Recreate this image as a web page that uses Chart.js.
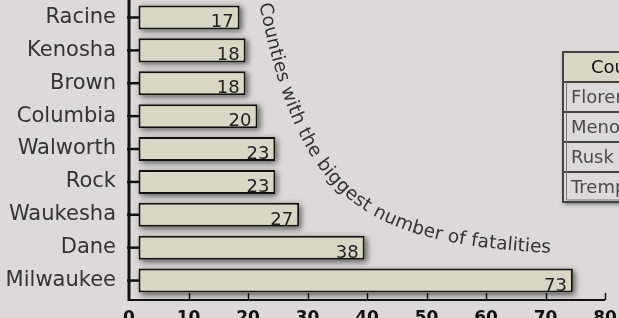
<!DOCTYPE html>
<html>
<head>
<meta charset="utf-8">
<script src="https://cdn.jsdelivr.net/npm/chart.js@4.4.1/dist/chart.umd.min.js"></script>
<style>
  html, body { margin: 0; padding: 0; background: #dcd9d8; overflow: hidden; }
  #wrap { width: 619px; height: 318px; overflow: hidden; }
</style>
</head>
<body>
<div id="wrap"><canvas id="myChart" width="619" height="330" style="width:619px;height:330px"></canvas></div>
<script>
const counties = ['Racine', 'Kenosha', 'Brown', 'Columbia', 'Walworth', 'Rock', 'Waukesha', 'Dane', 'Milwaukee'];
const fatalities = [17, 18, 18, 20, 23, 23, 27, 38, 73];
const xTicks = [0, 10, 20, 30, 40, 50, 60, 70, 80];
const titleText = 'Counties with the biggest number of fatalities';
const tableHeader = 'County';
const zeroCounties = ['Florence', 'Menominee', 'Rusk', 'Trempealeau'];

const BAR_START = 1.6; // bars sit a little off the axis line
const barFill = '#d9d6c5';
const bg = '#dcd9d8';

// soft shadow under each bar
const barShadow = {
    id: 'barShadow',
    beforeDatasetsDraw(chart) {
        const ctx = chart.ctx;
        ctx.save();
        ctx.shadowColor = 'rgba(0,0,0,0.6)';
        ctx.shadowBlur = 6;
        ctx.shadowOffsetX = 2;
        ctx.shadowOffsetY = 2;
        ctx.fillStyle = barFill;
        chart.getDatasetMeta(0).data.forEach(bar => {
            const p = bar.getProps(['x', 'y', 'base', 'height'], true);
            ctx.fillRect(p.base, p.y - p.height / 2, p.x - p.base, p.height);
        });
        ctx.restore();
    }
};

// axis lines, tick marks and value labels
const axesAndLabels = {
    id: 'axesAndLabels',
    afterDatasetsDraw(chart) {
        const ctx = chart.ctx;
        const xs = chart.scales.x, ys = chart.scales.y;
        const area = chart.chartArea;
        const axisY = area.bottom + 3;
        const x0 = xs.getPixelForValue(0);
        ctx.save();
        ctx.strokeStyle = '#111';
        // x axis
        ctx.lineWidth = 2;
        ctx.beginPath();
        ctx.moveTo(x0, axisY);
        ctx.lineTo(xs.getPixelForValue(80), axisY);
        ctx.stroke();
        ctx.lineWidth = 1.5;
        xTicks.slice(1).forEach(t => {
            const px = Math.round(xs.getPixelForValue(t)) + 0.5;
            ctx.beginPath();
            ctx.moveTo(px, axisY);
            ctx.lineTo(px, axisY - 7);
            ctx.stroke();
        });
        // y axis
        ctx.lineWidth = 3;
        ctx.beginPath();
        ctx.moveTo(x0, 0);
        ctx.lineTo(x0, axisY + 1);
        ctx.stroke();
        ctx.lineWidth = 2.5;
        counties.forEach((c, i) => {
            const py = ys.getPixelForValue(i);
            ctx.beginPath();
            ctx.moveTo(x0 - 2, py);
            ctx.lineTo(x0 + 11, py);
            ctx.stroke();
        });
        // value labels
        ctx.font = '18px "DejaVu Sans"';
        ctx.fillStyle = '#222';
        ctx.textAlign = 'right';
        ctx.textBaseline = 'alphabetic';
        chart.getDatasetMeta(0).data.forEach((bar, i) => {
            ctx.fillText(String(fatalities[i]), bar.x - 6, bar.y + 10);
        });
        ctx.restore();
    }
};

// title written along a curve (cubic bezier)
const curveTitle = {
    id: 'curveTitle',
    afterDraw(chart) {
        const ctx = chart.ctx;
        const p0 = [264, 3], p3 = [550, 248];
        const d0 = [0.2, 0.98], d3 = [0.998, 0.05], L = 193;
        const p1 = [p0[0] + d0[0] * L, p0[1] + d0[1] * L];
        const p2 = [p3[0] - d3[0] * L, p3[1] - d3[1] * L];
        const pt = t => {
            const u = 1 - t;
            return [
                u * u * u * p0[0] + 3 * u * u * t * p1[0] + 3 * u * t * t * p2[0] + t * t * t * p3[0],
                u * u * u * p0[1] + 3 * u * u * t * p1[1] + 3 * u * t * t * p2[1] + t * t * t * p3[1]
            ];
        };
        const N = 600;
        const pts = [], len = [0];
        for (let i = 0; i <= N; i++) pts.push(pt(i / N));
        for (let i = 1; i <= N; i++) {
            len.push(len[i - 1] + Math.hypot(pts[i][0] - pts[i - 1][0], pts[i][1] - pts[i - 1][1]));
        }
        const at = s => {
            let i = 1;
            while (i < N && len[i] < s) i++;
            const f = (s - len[i - 1]) / (len[i] - len[i - 1] || 1);
            const a = pts[i - 1], b = pts[i];
            return { x: a[0] + (b[0] - a[0]) * f, y: a[1] + (b[1] - a[1]) * f, ang: Math.atan2(b[1] - a[1], b[0] - a[0]) };
        };
        ctx.save();
        ctx.font = '18.5px "DejaVu Sans"';
        ctx.fillStyle = '#333';
        ctx.textAlign = 'center';
        ctx.textBaseline = 'middle';
        let s = 0;
        for (const ch of titleText) {
            const w = ctx.measureText(ch).width;
            const p = at(s + w / 2);
            ctx.save();
            ctx.translate(p.x, p.y);
            ctx.rotate(p.ang);
            ctx.fillText(ch, 0, 0);
            ctx.restore();
            s += w;
        }
        ctx.restore();
    }
};

// small table of counties, cut off by the right edge
const zeroTable = {
    id: 'zeroTable',
    afterDraw(chart) {
        const ctx = chart.ctx;
        const left = 563, top = 52, w = 120, rowH = 30;
        const h = rowH * (zeroCounties.length + 1);
        ctx.save();
        ctx.shadowColor = 'rgba(0,0,0,0.5)';
        ctx.shadowBlur = 4;
        ctx.shadowOffsetX = 1;
        ctx.shadowOffsetY = 2;
        ctx.fillStyle = bg;
        ctx.fillRect(left, top, w, h);
        ctx.restore();

        ctx.save();
        ctx.fillStyle = barFill;
        ctx.fillRect(left, top, w, rowH);
        ctx.strokeStyle = '#111';
        ctx.lineWidth = 1.5;
        for (let i = 1; i <= zeroCounties.length; i++) {
            ctx.beginPath();
            ctx.moveTo(left, top + i * rowH);
            ctx.lineTo(left + w, top + i * rowH);
            ctx.stroke();
        }
        ctx.strokeStyle = '#777';
        ctx.lineWidth = 1;
        ctx.beginPath();
        ctx.moveTo(left + 3.5, top + rowH);
        ctx.lineTo(left + 3.5, top + h - 2);
        ctx.lineTo(left + w, top + h - 2);
        ctx.stroke();
        ctx.strokeStyle = '#444';
        ctx.lineWidth = 2;
        ctx.strokeRect(left, top, w, h);

        ctx.font = '18px "DejaVu Sans"';
        ctx.textBaseline = 'middle';
        ctx.fillStyle = '#111';
        ctx.textAlign = 'center';
        ctx.fillText(tableHeader, left + w / 2, top + rowH / 2 + 1);
        ctx.fillStyle = '#4a4a4a';
        ctx.textAlign = 'left';
        zeroCounties.forEach((c, i) => {
            ctx.fillText(c, left + 8, top + (i + 1.5) * rowH + 1);
        });
        ctx.restore();
    }
};

const ctx = document.getElementById('myChart').getContext('2d');
const myChart = new Chart(ctx, {
    type: 'bar',
    data: {
        labels: counties,
        datasets: [{
            label: titleText,
            data: fatalities.map(v => [BAR_START, v + BAR_START]),
            backgroundColor: barFill,
            borderColor: '#111',
            borderWidth: 2,
            borderSkipped: false,
            barPercentage: 0.73,
            categoryPercentage: 1
        }]
    },
    plugins: [barShadow, axesAndLabels, curveTitle, zeroTable],
    options: {
        indexAxis: 'y',
        responsive: false,
        animation: false,
        devicePixelRatio: 1,
        layout: { padding: { left: 0, right: 14, top: 0, bottom: 0 } },
        plugins: {
            legend: { display: false },
            tooltip: { enabled: false }
        },
        scales: {
            x: {
                min: 0,
                max: 80,
                grid: { display: false, tickLength: 11 },
                border: { display: false },
                ticks: {
                    stepSize: 10,
                    padding: 0,
                    color: '#111',
                    font: { family: 'DejaVu Sans', size: 17, weight: 'bold' }
                },
                afterFit(scale) { scale.height = 33; }
            },
            y: {
                grid: { display: false, tickLength: 13 },
                border: { display: false },
                ticks: {
                    padding: 0,
                    color: '#333',
                    font: { family: 'DejaVu Sans', size: 21, lineHeight: 0.1 }
                },
                afterFit(scale) { scale.width = 129; }
            }
        }
    }
});
</script>
</body>
</html>
